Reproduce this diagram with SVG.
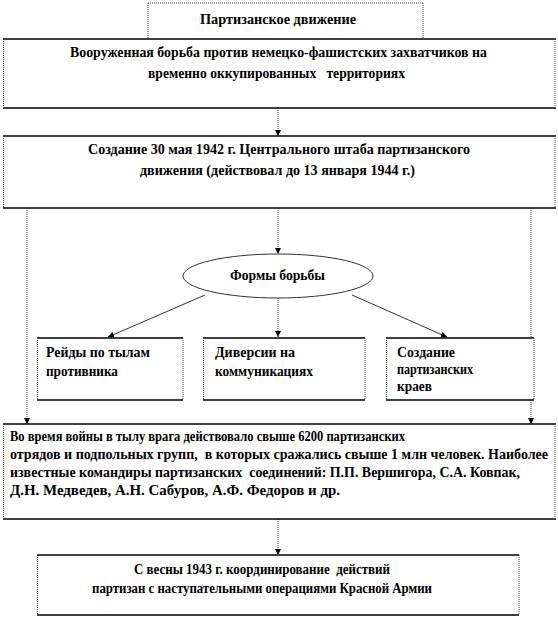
<svg xmlns="http://www.w3.org/2000/svg" width="558" height="618" viewBox="0 0 558 618">
<style>
.bg{fill:#fff}
.h{stroke:#000;stroke-width:1.5}
.v{stroke:#444;stroke-width:1;stroke-dasharray:1 1}
.t{font-family:"Liberation Serif","DejaVu Serif","Times New Roman",serif;font-weight:bold;font-size:14px;fill:#000}
.c{text-anchor:middle}
.dl{stroke:#444;stroke-width:1;stroke-dasharray:1 1;fill:none}
.sl{stroke:#000;stroke-width:0.8;fill:none}
</style>
<defs>
<marker id="ah" viewBox="0 0 10 10" refX="10" refY="5" markerWidth="6" markerHeight="6" orient="auto" markerUnits="userSpaceOnUse">
<path d="M0,0 L10,5 L0,10 z" fill="#000"/>
</marker>
</defs>
<rect width="558" height="618" fill="#fff"/>

<g id="connectors">
<line class="dl" x1="278" y1="108" x2="278" y2="136" marker-end="url(#ah)"/>
<line class="dl" x1="278" y1="208" x2="278" y2="254" marker-end="url(#ah)"/>
<line class="dl" x1="278" y1="298" x2="278" y2="337" marker-end="url(#ah)"/>
<line class="sl" x1="205" y1="295" x2="108" y2="337" marker-end="url(#ah)"/>
<line class="sl" x1="352" y1="295" x2="447" y2="337" marker-end="url(#ah)"/>
<line class="dl" x1="27" y1="208" x2="27" y2="424" marker-end="url(#ah)"/>
<line class="dl" x1="531" y1="208" x2="531" y2="424" marker-end="url(#ah)"/>
<line class="dl" x1="278" y1="519" x2="278" y2="555" marker-end="url(#ah)"/>
</g>

<g id="title">
<rect class="bg" x="148" y="3" width="275" height="36"/>
<line class="v" x1="148" y1="3" x2="423" y2="3"/>
<line class="v" x1="148" y1="3" x2="148" y2="39"/>
<line class="v" x1="423" y1="3" x2="423" y2="39"/>
<text class="t" x="200" y="24" textLength="156" lengthAdjust="spacingAndGlyphs">Партизанское движение</text>
</g>

<g id="armed-struggle">
<rect class="bg" x="3" y="39" width="553" height="69"/>
<line class="h" x1="3" y1="39" x2="556" y2="39"/>
<line class="h" x1="3" y1="108" x2="556" y2="108"/>
<line class="v" x1="3.5" y1="39" x2="3.5" y2="108"/>
<line class="v" x1="555" y1="39" x2="555" y2="108"/>
<text class="t" x="70" y="57" textLength="417" lengthAdjust="spacingAndGlyphs">Вооруженная борьба против немецко-фашистских захватчиков на</text>
<text class="t" x="148" y="78" textLength="257" lengthAdjust="spacingAndGlyphs" xml:space="preserve">временно оккупированных   территориях</text>
</g>

<g id="central-staff">
<rect class="bg" x="3" y="136" width="553" height="72"/>
<line class="h" x1="3" y1="136" x2="556" y2="136"/>
<line class="h" x1="3" y1="208" x2="556" y2="208"/>
<line class="v" x1="3.5" y1="136" x2="3.5" y2="208"/>
<line class="v" x1="555" y1="136" x2="555" y2="208"/>
<text class="t" x="88" y="154" textLength="382" lengthAdjust="spacingAndGlyphs">Создание 30 мая 1942 г. Центрального штаба партизанского</text>
<text class="t" x="140" y="175" textLength="275" lengthAdjust="spacingAndGlyphs">движения (действовал до 13 января 1944 г.)</text>
</g>

<g id="forms">
<ellipse cx="278" cy="276" rx="95" ry="22" fill="#fff" stroke="#333" stroke-width="1"/>
<text class="t" x="230" y="280" textLength="95" lengthAdjust="spacingAndGlyphs">Формы борьбы</text>
</g>

<g id="raids">
<rect class="bg" x="37" y="338" width="146" height="62"/>
<line class="h" x1="37" y1="338" x2="183" y2="338" stroke-width="1"/>
<line class="h" x1="37" y1="400" x2="183" y2="400"/>
<line class="v" x1="37.5" y1="338" x2="37.5" y2="400"/>
<line class="v" x1="183" y1="338" x2="183" y2="400"/>
<text class="t" x="46" y="357" textLength="104" lengthAdjust="spacingAndGlyphs">Рейды по тылам</text>
<text class="t" x="46" y="376" textLength="72" lengthAdjust="spacingAndGlyphs">противника</text>
</g>

<g id="sabotage">
<rect class="bg" x="203" y="338" width="162" height="62"/>
<line class="h" x1="203" y1="338" x2="365" y2="338" stroke-width="1"/>
<line class="h" x1="203" y1="400" x2="365" y2="400"/>
<line class="v" x1="203.5" y1="338" x2="203.5" y2="400"/>
<line class="v" x1="365" y1="338" x2="365" y2="400"/>
<text class="t" x="215" y="357" textLength="80" lengthAdjust="spacingAndGlyphs">Диверсии на</text>
<text class="t" x="215" y="376" textLength="98" lengthAdjust="spacingAndGlyphs">коммуникациях</text>
</g>

<g id="regions">
<rect class="bg" x="386" y="338" width="148" height="62"/>
<line class="h" x1="386" y1="338" x2="534" y2="338" stroke-width="1"/>
<line class="h" x1="386" y1="400" x2="534" y2="400"/>
<line class="v" x1="386.5" y1="338" x2="386.5" y2="400"/>
<line class="v" x1="534" y1="338" x2="534" y2="400"/>
<text class="t" x="397" y="357" textLength="58" lengthAdjust="spacingAndGlyphs">Создание</text>
<text class="t" x="397" y="374" textLength="76" lengthAdjust="spacingAndGlyphs">партизанских</text>
<text class="t" x="397" y="391" textLength="35" lengthAdjust="spacingAndGlyphs">краев</text>
</g>

<g id="war-time">
<rect class="bg" x="3" y="424" width="553" height="95"/>
<line class="h" x1="3" y1="424" x2="556" y2="424"/>
<line class="h" x1="3" y1="519" x2="556" y2="519"/>
<line class="v" x1="3.5" y1="424" x2="3.5" y2="519"/>
<line class="v" x1="555" y1="424" x2="555" y2="519"/>
<text class="t" x="10" y="441" textLength="395" lengthAdjust="spacingAndGlyphs">Во время войны в тылу врага действовало свыше 6200 партизанских</text>
<text class="t" x="10" y="459" textLength="538" lengthAdjust="spacingAndGlyphs" xml:space="preserve">отрядов и подпольных групп,  в которых сражались свыше 1 млн человек. Наиболее</text>
<text class="t" x="10" y="477" textLength="510" lengthAdjust="spacingAndGlyphs" xml:space="preserve">известные командиры партизанских  соединений: П.П. Вершигора, С.А. Ковпак,</text>
<text class="t" x="10" y="495" textLength="330" lengthAdjust="spacingAndGlyphs">Д.Н. Медведев, А.Н. Сабуров, А.Ф. Федоров и др.</text>
</g>

<g id="coordination">
<rect class="bg" x="37" y="555" width="482" height="60"/>
<line class="h" x1="37" y1="555" x2="519" y2="555"/>
<line class="h" x1="37" y1="615" x2="519" y2="615"/>
<line class="v" x1="37.5" y1="555" x2="37.5" y2="615"/>
<line class="v" x1="519" y1="555" x2="519" y2="615"/>
<text class="t" x="134" y="574" textLength="256" lengthAdjust="spacingAndGlyphs" xml:space="preserve">С весны 1943 г. координирование  действий</text>
<text class="t" x="92" y="593" textLength="340" lengthAdjust="spacingAndGlyphs">партизан с наступательными операциями Красной Армии</text>
</g>
</svg>
